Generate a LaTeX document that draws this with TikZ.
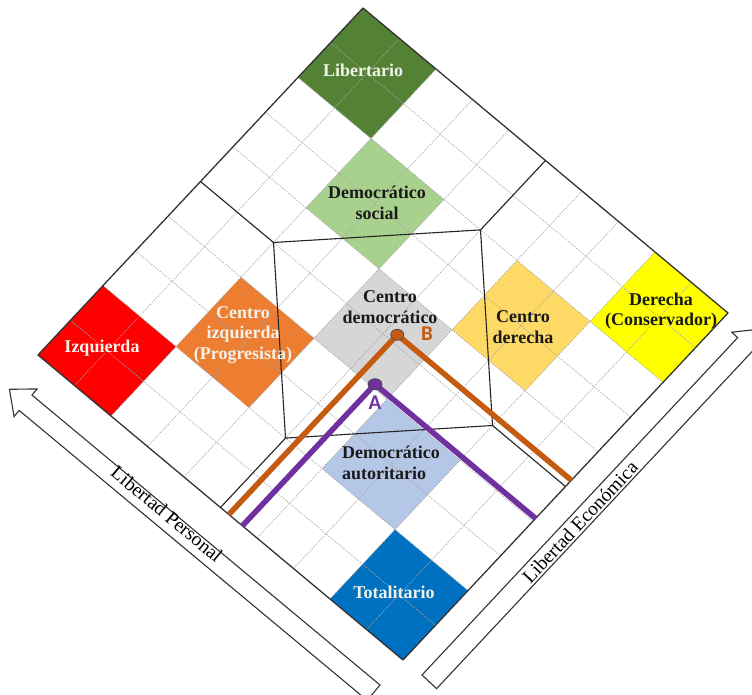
\documentclass[tikz,border=0pt]{standalone}
\usepackage{fontspec}
\setmainfont{Liberation Serif}
\newfontfamily\labsans{Carlito}
\usetikzlibrary{shapes.geometric}
\definecolor{libgreen}{HTML}{548235}
\definecolor{socgreen}{HTML}{A9D18E}
\definecolor{centgray}{HTML}{D6D6D6}
\definecolor{autblue}{HTML}{B4C7E7}
\definecolor{totblue}{HTML}{0070C0}
\definecolor{izqred}{HTML}{FF0000}
\definecolor{cizorange}{HTML}{ED7D31}
\definecolor{cdergold}{HTML}{FFD966}
\definecolor{deryellow}{HTML}{FFFF00}
\definecolor{pathorange}{HTML}{C55A11}
\definecolor{pathpurple}{HTML}{7030A0}
\definecolor{gridgray}{HTML}{A6A6A6}
\definecolor{bordergray}{HTML}{333333}
\definecolor{darktext}{HTML}{1A1A1A}
\definecolor{lighttext}{HTML}{F2F2EA}
\begin{document}
\begin{tikzpicture}[x=1pt,y=-1pt,
  lab/.style={font=\bfseries\fontsize{18}{20.5}\selectfont, align=center, inner sep=0pt, text=darktext},
  lablight/.style={lab, text=lighttext},
  gridline/.style={gridgray, line width=0.6pt, dash pattern=on 1.5pt off 1.2pt},
  border/.style={bordergray, line width=1.3pt, line join=round},
  zone/.style={black!85, line width=1.1pt, line join=round},
  orangepath/.style={pathorange, line width=5.5pt, line join=miter},
  purplepath/.style={pathpurple, line width=5.5pt, line join=miter},
  dotmark/.style={ellipse, draw=black!70, line width=0.8pt, minimum width=13pt, minimum height=11pt, inner sep=0pt},
  ptlabel/.style={font=\labsans\bfseries\fontsize{21}{21}\selectfont, inner sep=0pt},
  bigarrow/.style={draw=black!80, fill=white, line width=1.1pt, line join=miter},
  arrowtext/.style={font=\fontsize{19.5}{19.5}\selectfont, inner sep=0pt, text=black}]
\useasboundingbox (0,0) rectangle (752,695);
\clip (0,0) rectangle (752,695);
\fill[white] (0,0) rectangle (752,695);

% ---------- big outline arrows ----------
\begin{scope}[shift={(373.6,692.7)}, rotate=140.2]
  \draw[bigarrow] (0,-10) -- (453,-10) -- (453,-18) -- (474,0) -- (453,18) -- (453,10) -- (0,10) -- cycle;
\end{scope}
\begin{scope}[shift={(429.3,681.8)}, rotate=46.9]
  \draw[bigarrow] (0,-10) -- (462,-10) -- (462,-18) -- (483,0) -- (462,18) -- (462,10) -- (0,10) -- cycle;
\end{scope}
\node[arrowtext, rotate=-39.8] (lp) at (167,514) {Libertad Personal};
\node[arrowtext, rotate=46.9] (le) at (580,522) {Libertad Económica};

% ---------- diamond in (s,t) coordinates ----------
\begin{scope}[shift={(403,660)}, x={(32.5pt,34.7pt)}, y={(-36.5pt,30.5pt)}]
  \fill[totblue]   (0,0) -- (2,0) -- (2,2) -- (0,2) -- cycle;
  \fill[autblue]   (2,2) -- (4,2) -- (4,4) -- (2,4) -- cycle;
  \fill[centgray]  (4,4) -- (6,4) -- (6,6) -- (4,6) -- cycle;
  \fill[socgreen]  (6,6) -- (8,6) -- (8,8) -- (6,8) -- cycle;
  \fill[libgreen]  (8,8) -- (10,8) -- (10,10) -- (8,10) -- cycle;
  \fill[izqred]    (0,8) -- (2,8) -- (2,10) -- (0,10) -- cycle;
  \fill[cizorange] (2,6) -- (4,6) -- (4,8) -- (2,8) -- cycle;
  \fill[cdergold]  (6,2) -- (8,2) -- (8,4) -- (6,4) -- cycle;
  \fill[deryellow] (8,0) -- (10,0) -- (10,2) -- (8,2) -- cycle;
  \foreach \i in {1,...,9} {
    \draw[gridline] (\i,0) -- (\i,10);
    \draw[gridline] (0,\i) -- (10,\i);
  }
  \draw[border] (0,0) -- (10,0) -- (10,10) -- (0,10) -- cycle;
  % zone lines
  \coordinate (zt) at (5,8);
  \coordinate (zr) at (8,5);
  \coordinate (zb) at (5,2);
  \coordinate (zl) at (2,5);
  \coordinate (et) at (5,10);
  \coordinate (er) at (10,5);
  \coordinate (eb) at (5,0);
  \coordinate (el) at (0,5);
  \draw[zone] (zt) -- (zr) -- (zb) -- (zl) -- cycle;
  \draw[zone] (zt) -- (et);
  \draw[zone] (zr) -- (er);
  \draw[zone] (zb) -- (eb);
  \draw[zone] (zl) -- (el);
  % paths
  \coordinate (Bp) at (5.18,4.77);
  \coordinate (Bl) at (0,4.77);
  \coordinate (Br) at (5.18,0);
  \coordinate (Ap) at (4.08,4.4);
  \coordinate (Al) at (0,4.4);
  \coordinate (Ar) at (4.08,0);
  \draw[orangepath] (Bl) -- (Bp) -- (Br);
  \draw[purplepath] (Al) -- (Ap) -- (Ar);
  \node[dotmark, fill=pathorange] (Bdot) at (Bp) {};
  \node[dotmark, fill=pathpurple, minimum width=14pt] (Adot) at (Ap) {};
\end{scope}

\node[ptlabel, text=pathorange] (Blab) at (427,334) {B};
\node[ptlabel, text=pathpurple] (Alab) at (375,403) {A};

% ---------- labels ----------
\node[lablight] (libertario) at (363,70) {Libertario};
\node[lab] (social) at (377,203) {Democrático\\social};
\node[lab] (centro) at (390,307) {Centro\\democrático};
\node[lab, align=left] (autoritario) at (391,463) {Democrático\\autoritario};
\node[lablight] (totalitario) at (394,592) {Totalitario};
\node[lablight] (izquierda) at (102,348) {Izquierda};
\node[lablight] (cizq) at (243,335) {Centro\\izquierda\\(Progresista)};
\node[lab] (cder) at (523,327) {Centro\\derecha};
\node[lab] (derecha) at (661,311) {Derecha\\(Conservador)};
\end{tikzpicture}
\end{document}
